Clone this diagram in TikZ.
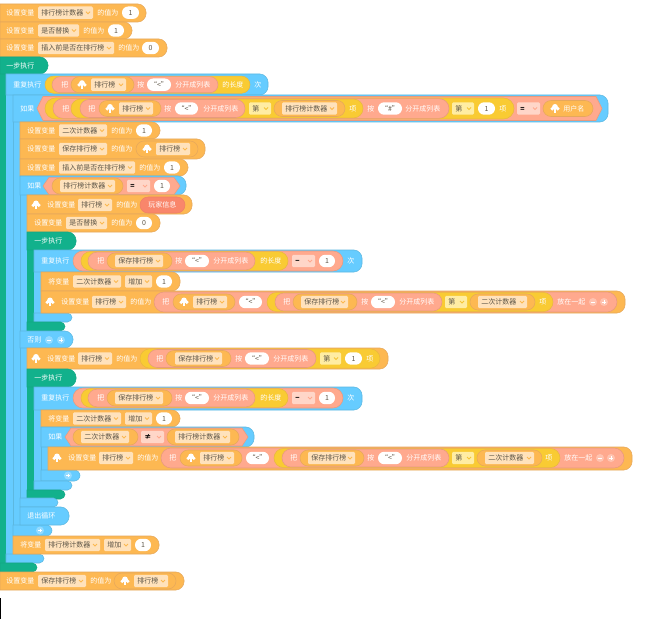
\documentclass[tikz,border=0pt]{standalone}
\usepackage{fontspec}
\setmainfont{Noto Sans CJK SC}
\definecolor{org}{HTML}{FDB852}\definecolor{orge}{HTML}{E6A85C}
\definecolor{sal}{HTML}{FFA98E}\definecolor{sale}{HTML}{E89A7E}
\definecolor{yel}{HTML}{F9CB33}\definecolor{yele}{HTML}{E8B840}
\definecolor{blu}{HTML}{66CCFF}\definecolor{blue}{HTML}{5CB8E0}
\definecolor{grn}{HTML}{12B18C}\definecolor{grne}{HTML}{12A884}
\definecolor{red}{HTML}{F9866B}\definecolor{rede}{HTML}{EE8068}
\definecolor{ddo}{HTML}{FFE2BC}\definecolor{ddy}{HTML}{FFEDA3}\definecolor{dds}{HTML}{FFD6C8}
\definecolor{chvo}{HTML}{FBB84F}\definecolor{chvy}{HTML}{F5C535}\definecolor{chvs}{HTML}{FFA98E}
\definecolor{dtx}{HTML}{5E5648}
\tikzset{
 wt/.style={anchor=west,inner sep=0pt,text=white,font=\fontsize{5.25pt}{6pt}\selectfont,text height=4.6pt,text depth=.6pt},
 dt/.style={wt,text=dtx},
 ct/.style={dt,anchor=center}
}
\newcommand\Blk[5]{\pgfmathsetmacro\rr{min(8,(#4-#2)/2)}\path[fill=#5,draw=#5e,line width=.4pt] (#1,#2) -- ({#3-\rr},#2) .. controls ({#3-.45*\rr},#2) and (#3,{#2+.55*\rr}) .. (#3,{#2+\rr}) -- (#3,{#4-\rr}) .. controls (#3,{#4-.55*\rr}) and ({#3-.45*\rr},#4) .. ({#3-\rr},#4) -- (#1,#4) -- cycle;}
\newcommand\Pl[5]{\pgfmathsetmacro\rr{.75*#4}\path[fill=#5,draw=#5e,line width=.4pt,rounded corners=\rr pt] (#1,{#3-#4}) rectangle (#2,{#3+#4});}
\newcommand\Hx[5]{\path[fill=#5,draw=#5e,line width=.4pt] (#1,#3) -- ({#1+6},{#3-#4}) -- ({#2-6},{#3-#4}) -- (#2,#3) -- ({#2-6},{#3+#4}) -- ({#1+6},{#3+#4}) -- cycle;}
\newcommand\Dd[6]{\path[fill=#5,rounded corners=1pt] (#1,{#3-6.2}) rectangle (#2,{#3+6.2});\node[dt] at ({#1+3},#3) {#4};\draw[#6,line width=.6pt] ({#2-7},{#3-1}) -- ({#2-5},{#3+1}) -- ({#2-3},{#3-1});}
\newcommand\DO[4]{\Dd{#1}{#2}{#3}{#4}{ddo}{chvo}}
\newcommand\DY[4]{\Dd{#1}{#2}{#3}{#4}{ddy}{chvy}}
\newcommand\DS[4]{\Dd{#1}{#2}{#3}{{\color{black}\bfseries #4}}{dds}{chvs}}
\newcommand\WP[4]{\path[fill=white,rounded corners=4.6pt] (#1,{#3-6.2}) rectangle (#2,{#3+6.2});\node[ct] at ({(#1+#2)/2},#3) {#4};}
\newcommand\Tx[3]{\node[wt] at (#1,#2) {#3};}
\newcommand\Cld[2]{\fill[white] ({#1},{#2-1.6}) circle (2.9) ({#1-2.8},{#2+.2}) circle (1.9) ({#1+2.8},{#2+.2}) circle (1.9);\fill[white] ({#1-1},{#2}) rectangle ({#1+1},{#2+4.4});}
\newcommand\Mn[3]{\fill[#3] (#1,#2) circle (4);\draw[white,line width=.7pt] ({#1-1.8},#2) -- ({#1+1.8},#2);}
\newcommand\Pp[3]{\Mn{#1}{#2}{#3}\draw[white,line width=.7pt] (#1,{#2-1.8}) -- (#1,{#2+1.8});}
% reusable: cloud variable pill
\newcommand\CV[3]{\Pl{#1}{#2}{#3}{8}{org}\Cld{\the\numexpr#1+11\relax}{#3}\DO{\the\numexpr#1+20\relax}{\the\numexpr#2-8\relax}{#3}{排行榜}}
\begin{document}
\begin{tikzpicture}[x=.75pt,y=-.75pt]
\useasboundingbox (0,0) rectangle (659,627);
\fill[white] (0,0) rectangle (659,627);
% top rows
\Blk{0}{4}{146}{22}{org}\Tx{6}{12.7}{设置变量}\DO{38}{93}{12.7}{排行榜计数器}\Tx{97}{12.7}{的值为}\WP{122}{139}{12.7}{1}
\Blk{0}{22}{132}{39}{org}\Tx{6}{30.5}{设置变量}\DO{38}{79}{30.5}{是否替换}\Tx{83}{30.5}{的值为}\WP{108}{124}{30.5}{1}
\Blk{0}{39}{167}{57}{org}\Tx{6}{48}{设置变量}\DO{38}{114}{48}{插入前是否在排行榜}\Tx{118}{48}{的值为}\WP{142}{159}{48}{0}
% spines
\fill[grn] (0,57) rectangle (6,572);
\fill[blu] (6,74) rectangle (13,563);
\fill[blu] (13,95) rectangle (20,536);
\fill[blu] (20,176) rectangle (27,507);
\draw[blue,line width=.4pt] (13,95) -- (13,554) (20,122) -- (20,525) (27,195) -- (27,331) (27,348) -- (27,498);
\fill[grn] (27,232) rectangle (34,331);
\fill[grn] (27,369) rectangle (34,499);
\fill[blu] (34,250) rectangle (41,322);
\fill[blu] (34,387) rectangle (41,490);
\fill[blu] (41,427) rectangle (48,481);
\draw[blue,line width=.4pt] (41,272) -- (41,313) (41,410) -- (41,481) (48,447) -- (48,470);
% bars
\Blk{41}{470}{80}{481}{blu}\Pp{68}{475.5}{white!30!blu}
\Blk{34}{481}{72}{490}{blu}
\Blk{27}{490}{65}{499}{grn}
\Blk{20}{498}{58}{507}{blu}
\Blk{34}{313}{72}{322}{blu}
\Blk{27}{322}{65}{331}{grn}
\Blk{13}{525}{52}{536}{blu}\Pp{40}{530.5}{white!30!blu}
\Blk{6}{554}{44}{563}{blu}
\Blk{0}{563}{37}{572}{grn}
% step
\Blk{0}{57}{48}{74}{grn}\Tx{6}{65.5}{一步执行}
% repeat 1
\Blk{6}{74}{268}{95}{blu}\Tx{13}{84.7}{重复执行}
\Pl{45}{250}{84.7}{8.6}{yel}\Pl{52}{218}{84.7}{8}{sal}\Tx{61}{84.7}{把}\CV{71}{134}{84.7}
\Tx{137}{84.7}{按}\WP{147}{171}{84.7}{“<”}\Tx{175}{84.7}{分开成列表}\Tx{222}{84.7}{的长度}\Tx{254}{84.7}{次}
% if 1
\Blk{13}{95}{608}{122}{blu}\Tx{20}{108.5}{如果}
\Hx{37}{602}{108.5}{12}{sal}
\Pl{45}{514}{108.5}{10.5}{yel}\Pl{53}{449}{108.5}{9.8}{sal}\Tx{62}{108.5}{把}
\Pl{71}{363}{108.5}{9.4}{yel}\Pl{80}{245}{108.5}{9}{sal}\Tx{88}{108.5}{把}
\CV{99}{161}{108.5}\Tx{164}{108.5}{按}\WP{175}{198}{108.5}{“<”}\Tx{203}{108.5}{分开成列表}
\DY{249}{271}{108.5}{第}\Pl{274}{345}{108.5}{8}{org}\DO{282}{337}{108.5}{排行榜计数器}\Tx{349}{108.5}{项}
\Tx{367}{108.5}{按}\WP{378}{402}{108.5}{“\#”}\Tx{405}{108.5}{分开成列表}
\DY{452}{474}{108.5}{第}\WP{478}{495}{108.5}{1}\Tx{499}{108.5}{项}
\DS{517}{540}{108.5}{=}\Pl{543}{593}{108.5}{8}{org}\Cld{555}{108.5}\Tx{563}{108.5}{用户名}
% body of if 1
\Blk{20}{122}{160}{139}{org}\Tx{27}{130.5}{设置变量}\DO{59}{107}{130.5}{二次计数器}\Tx{111}{130.5}{的值为}\WP{136}{152}{130.5}{1}
\Blk{20}{139}{205}{159}{org}\Tx{27}{149}{设置变量}\DO{59}{107}{149}{保存排行榜}\Tx{111}{149}{的值为}\CV{136}{198}{149}
\Blk{20}{159}{188}{176}{org}\Tx{27}{167.5}{设置变量}\DO{59}{135}{167.5}{插入前是否在排行榜}\Tx{139}{167.5}{的值为}\WP{164}{180}{167.5}{1}
% if 2
\Blk{20}{176}{186}{195}{blu}\Tx{27}{186}{如果}
\Hx{43}{180}{186}{8.6}{sal}\Pl{52}{123}{186}{8}{org}\DO{60}{115}{186}{排行榜计数器}\DS{127}{150}{186}{=}\WP{154}{170}{186}{1}
\Blk{27}{195}{192}{214}{org}\Cld{36}{205}\Tx{47}{205}{设置变量}\DO{78}{112}{205}{排行榜}\Tx{116}{205}{的值为}\Pl{140}{185}{205}{8}{red}\Tx{148}{205}{玩家信息}
\Blk{27}{214}{160}{232}{org}\Tx{34}{223}{设置变量}\DO{66}{107}{223}{是否替换}\Tx{111}{223}{的值为}\WP{136}{152}{223}{0}
\Blk{27}{232}{76}{250}{grn}\Tx{34}{241}{一步执行}
% repeat 2
\Blk{34}{250}{362}{272}{blu}\Tx{41}{261}{重复执行}
\Pl{73}{343}{261}{10}{sal}\Pl{81}{288}{261}{9.4}{yel}\Pl{88}{255}{261}{8.8}{sal}\Tx{97}{261}{把}
\Pl{107}{172}{261}{8}{org}\DO{115}{163}{261}{保存排行榜}\Tx{175}{261}{按}\WP{185}{209}{261}{“<”}\Tx{213}{261}{分开成列表}\Tx{260}{261}{的长度}
\DS{292}{315}{261}{−}\WP{319}{335}{261}{1}\Tx{347}{261}{次}
\Blk{41}{272}{180}{291}{org}\Tx{48}{281.5}{将变量}\DO{73}{121}{281.5}{二次计数器}\DO{125}{152}{281.5}{增加}\WP{156}{172}{281.5}{1}
\Blk{41}{291}{625}{313}{org}\Cld{50}{302}\Tx{61}{302}{设置变量}\DO{92}{126}{302}{排行榜}\Tx{130}{302}{的值为}
\Pl{154}{617}{302}{10}{sal}\Tx{162}{302}{把}\CV{173}{235}{302}\WP{239}{262}{302}{“<”}
\Pl{267}{553}{302}{9.6}{yel}\Pl{275}{442}{302}{9}{sal}\Tx{283}{302}{把}\Pl{293}{357}{302}{8}{org}\DO{301}{348}{302}{保存排行榜}\Tx{361}{302}{按}\WP{371}{395}{302}{“<”}\Tx{399}{302}{分开成列表}
\DY{445}{467}{302}{第}\Pl{470}{535}{302}{8}{org}\DO{478}{527}{302}{二次计数器}\Tx{539}{302}{项}\Tx{557}{302}{放在一起}\Mn{593}{302}{white!30!sal}\Pp{604}{302}{white!30!sal}
% else
\Blk{20}{331}{73}{348}{blu}\Tx{27}{340}{否则}\Mn{49}{340}{white!30!blu}\Pp{61}{340}{white!30!blu}
\Blk{27}{348}{388}{369}{org}\Cld{36}{358.5}\Tx{47}{358.5}{设置变量}\DO{78}{112}{358.5}{排行榜}\Tx{116}{358.5}{的值为}
\Pl{140}{380}{358.5}{9.6}{yel}\Pl{148}{316}{358.5}{9}{sal}\Tx{156}{358.5}{把}\Pl{166}{231}{358.5}{8}{org}\DO{175}{222}{358.5}{保存排行榜}\Tx{235}{358.5}{按}\WP{245}{269}{358.5}{“<”}\Tx{273}{358.5}{分开成列表}
\DY{320}{341}{358.5}{第}\WP{345}{362}{358.5}{1}\Tx{366}{358.5}{项}
\Blk{27}{369}{76}{387}{grn}\Tx{34}{378}{一步执行}
% repeat 3
\Blk{34}{387}{362}{410}{blu}\Tx{41}{398}{重复执行}
\Pl{73}{343}{398}{10}{sal}\Pl{81}{288}{398}{9.4}{yel}\Pl{88}{255}{398}{8.8}{sal}\Tx{97}{398}{把}
\Pl{107}{172}{398}{8}{org}\DO{115}{163}{398}{保存排行榜}\Tx{175}{398}{按}\WP{185}{209}{398}{“<”}\Tx{213}{398}{分开成列表}\Tx{260}{398}{的长度}
\DS{292}{315}{398}{−}\WP{319}{335}{398}{1}\Tx{347}{398}{次}
\Blk{41}{410}{180}{427}{org}\Tx{48}{418.5}{将变量}\DO{73}{121}{418.5}{二次计数器}\DO{125}{152}{418.5}{增加}\WP{156}{172}{418.5}{1}
% if 3
\Blk{41}{427}{254}{447}{blu}\Tx{48}{437}{如果}
\Hx{65}{248}{437}{9}{sal}\Pl{73}{138}{437}{8}{org}\DO{81}{129}{437}{二次计数器}\DS{141}{164}{437}{≠}\Pl{167}{239}{437}{8}{org}\DO{175}{230}{437}{排行榜计数器}
\Blk{48}{447}{632}{470}{org}\Cld{57}{458}\Tx{68}{458}{设置变量}\DO{99}{133}{458}{排行榜}\Tx{137}{458}{的值为}
\Pl{161}{624}{458}{10}{sal}\Tx{169}{458}{把}\CV{180}{242}{458}\WP{246}{269}{458}{“<”}
\Pl{274}{560}{458}{9.6}{yel}\Pl{282}{449}{458}{9}{sal}\Tx{290}{458}{把}\Pl{300}{364}{458}{8}{org}\DO{308}{355}{458}{保存排行榜}\Tx{367}{458}{按}\WP{378}{402}{458}{“<”}\Tx{406}{458}{分开成列表}
\DY{452}{474}{458}{第}\Pl{477}{542}{458}{8}{org}\DO{485}{534}{458}{二次计数器}\Tx{545}{458}{项}\Tx{564}{458}{放在一起}\Mn{600}{458}{white!30!sal}\Pp{611}{458}{white!30!sal}
% exit
\Blk{20}{507}{69}{525}{blu}\Tx{27}{516}{退出循环}
\Blk{13}{536}{159}{554}{org}\Tx{20}{545}{将变量}\DO{45}{100}{545}{排行榜计数器}\DO{104}{131}{545}{增加}\WP{135}{151}{545}{1}
\Blk{0}{572}{184}{590}{org}\Tx{6}{581}{设置变量}\DO{38}{86}{581}{保存排行榜}\Tx{90}{581}{的值为}\CV{114}{176}{581}
% stray mark
\fill[black] (0,598) rectangle (1,619);
\end{tikzpicture}
\end{document}
